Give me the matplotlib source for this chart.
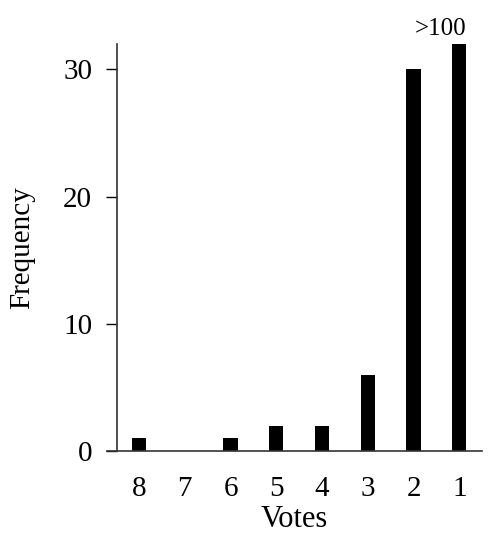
import matplotlib.pyplot as plt

plt.rcParams['font.family'] = ['Liberation Serif', 'DejaVu Serif']

votes = ["8", "7", "6", "5", "4", "3", "2", "1"]
freq = [1, 0, 1, 2, 2, 6, 30, 32]  # last bar is >100, clipped at axis top
top_label = ">100"

fig = plt.figure(figsize=(4.89, 5.5), dpi=100)
ax = fig.add_axes([0.219, 0.18, 0.767, 0.74])

x = list(range(len(votes)))
ax.bar(x, freq, width=0.31, color="black")
ax.text(x[-1] - 0.42, 32.3, top_label, ha="center", va="bottom", fontsize=18)

ax.set_xlim(-0.7, 7.5)
ax.set_ylim(0, 32)
ax.set_xticks(x)
ax.set_xticklabels(votes)
ax.set_yticks([0, 10, 20, 30])
ax.tick_params(axis="x", length=0, pad=18, labelsize=21)
ax.tick_params(axis="y", length=8, width=1, pad=10, labelsize=21)

ax.spines["top"].set_visible(False)
ax.spines["right"].set_visible(False)
ax.spines["left"].set_position(("data", -0.48))
for s in ["left", "bottom"]:
    ax.spines[s].set_linewidth(1.2)
    ax.spines[s].set_color("#333333")

ax.set_xlabel("Votes", fontsize=22, labelpad=2)
ax.set_ylabel("Frequency", fontsize=21, labelpad=20)

fig.savefig("out.png", dpi=100)
